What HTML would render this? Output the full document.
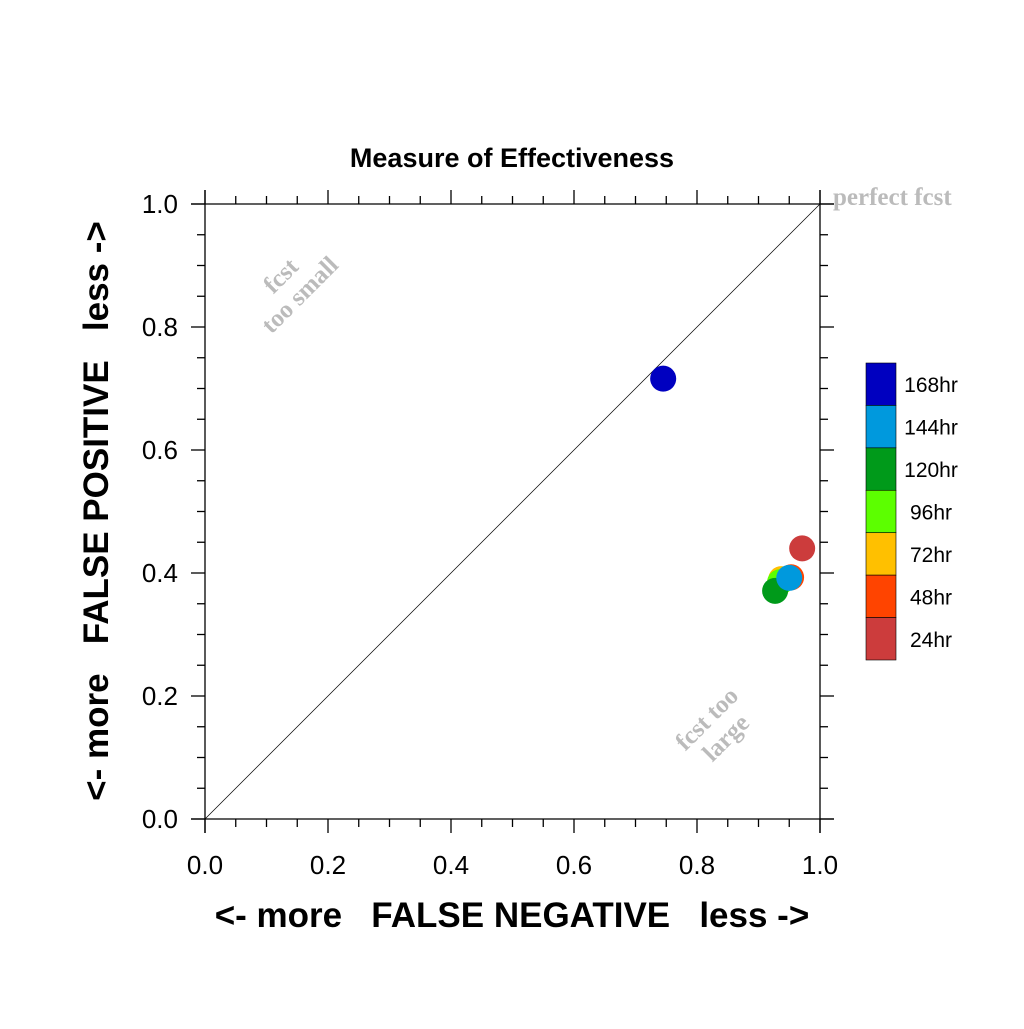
<!DOCTYPE html>
<html><head><meta charset="utf-8"><style>body{margin:0;background:#fff}</style></head>
<body>
<svg id="chart" width="1024" height="1024" xmlns="http://www.w3.org/2000/svg" font-family="Liberation Sans, sans-serif">
<text x="512" y="167" text-anchor="middle" font-size="27" font-weight="bold">Measure of Effectiveness</text>
<g id="axes" stroke="#000" stroke-width="1.3"></g>
<line x1="205" y1="819" x2="820" y2="204" stroke="#000" stroke-width="0.7"/>
<g id="labels" font-size="26"></g>
<text x="512" y="927" text-anchor="middle" font-size="35" font-weight="bold" xml:space="preserve">&lt;- more   FALSE NEGATIVE   less -&gt;</text>
<text transform="translate(108,511) rotate(-90)" text-anchor="middle" font-size="35" font-weight="bold" xml:space="preserve">&lt;- more   FALSE POSITIVE   less -&gt;</text>
<g font-family="Liberation Serif, serif" font-weight="bold" fill="#bbbbbb" font-size="25">
<text x="833" y="205">perfect fcst</text>
<g transform="translate(290,285) rotate(-45)"><text text-anchor="middle"><tspan x="0" y="-5">fcst</tspan><tspan x="0" y="22">too small</tspan></text></g>
<g transform="translate(716,728) rotate(-45)"><text text-anchor="middle"><tspan x="0" y="-5">fcst too</tspan><tspan x="0" y="22">large</tspan></text></g>
</g>
<g id="points"></g>
<g id="legend" font-size="21"></g>
</svg>
<script>
const leads=["24hr","48hr","72hr","96hr","120hr","144hr","168hr"];
const xVals=[0.971,0.953,0.937,0.935,0.927,0.950,0.745];
const yVals=[0.440,0.393,0.390,0.385,0.371,0.392,0.716];
const colors=["#cc3c3c","#ff4400","#ffc000","#5cff00","#009a1a","#0099dd","#0000c0"];
const tickVals=[0,0.2,0.4,0.6,0.8,1.0];
const ns="http://www.w3.org/2000/svg";
const X0=205,X1=820,Y0=819,Y1=204;
const sx=v=>X0+(X1-X0)*v, sy=v=>Y0-(Y0-Y1)*v;
function mk(t,a,p){const e=document.createElementNS(ns,t);for(const k in a)e.setAttribute(k,a[k]);p.appendChild(e);return e;}
const axes=document.getElementById('axes');
const ext=14;
let l;
l=mk('line',{x1:X0-ext,y1:Y1,x2:X1+ext,y2:Y1},axes);


l=mk('line',{x1:X0-ext,y1:Y0,x2:X1+ext,y2:Y0},axes);


l=mk('line',{x1:X0,y1:Y1-ext,x2:X0,y2:Y0+ext},axes);


l=mk('line',{x1:X1,y1:Y1-ext,x2:X1,y2:Y0+ext},axes);


for(let i=0;i<=20;i++){
  const v=i*0.05, len=(i%4===0)?14:8;
  const x=sx(v), y=sy(v);
  mk('line',{x1:x,y1:Y1,x2:x,y2:Y1-len},axes);
  mk('line',{x1:x,y1:Y0,x2:x,y2:Y0+len},axes);
  mk('line',{x1:X0,y1:y,x2:X0-len,y2:y},axes);
  mk('line',{x1:X1,y1:y,x2:X1+len,y2:y},axes);
}
const lab=document.getElementById('labels');
tickVals.forEach(v=>{
  let t=mk('text',{x:sx(v),y:874,'text-anchor':'middle'},lab);
  t.textContent=v.toFixed(1);
  
  
  t=mk('text',{x:178,y:sy(v)+9,'text-anchor':'end'},lab);
  t.textContent=v.toFixed(1);
  
  
});
const pts=document.getElementById('points');
leads.forEach((n,i)=>{
  const c=mk('circle',{cx:sx(xVals[i]),cy:sy(yVals[i]),r:13,fill:colors[i]},pts);
  
  
});
const lg=document.getElementById('legend');
const bh=(660-363)/7;
for(let j=0;j<7;j++){
  const i=6-j, y=363+j*bh;
  const r=mk('rect',{x:866,y:y,width:30,height:bh,fill:colors[i],stroke:'#000','stroke-width':0.6},lg);
  
  
  const t=mk('text',{x:931,y:y+bh/2+8,'text-anchor':'middle'},lg);
  t.textContent=leads[i];
  
  
}
</script>
</body></html>
